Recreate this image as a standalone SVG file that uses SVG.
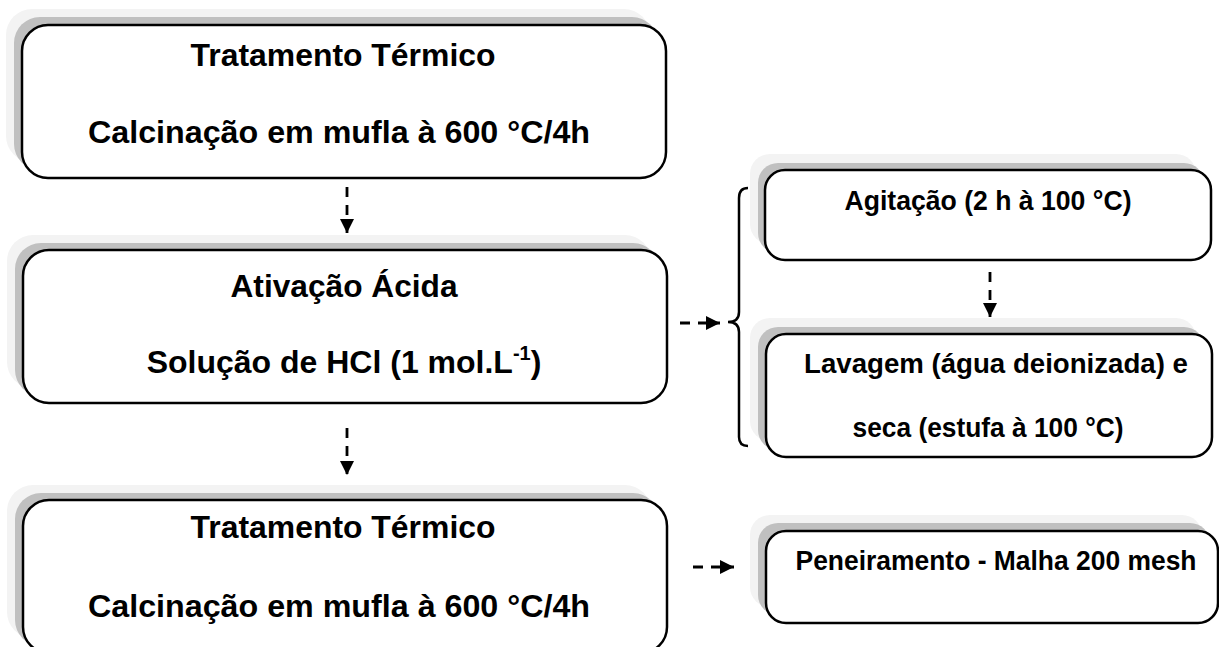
<svg xmlns="http://www.w3.org/2000/svg" width="1219" height="647" viewBox="0 0 1219 647">
  <defs>
    <marker id="tri" viewBox="0 0 10 10" refX="10" refY="5" markerWidth="5" markerHeight="5" markerUnits="strokeWidth" orient="auto">
      <path d="M0,0 L10,5 L0,10 z" fill="#000"/>
    </marker>
  </defs>
  <style>
    .box { fill: #fff; stroke: #000; stroke-width: 2.5; }
    .sh1 { fill: #f3f3f3; }
    .sh2 { fill: #c0c0c0; }
    .t { font-family: "Liberation Sans", Arial, sans-serif; font-weight: bold; fill: #000; text-anchor: middle; }
    .big { font-size: 32px; }
    .small { font-size: 27px; }
    .link { fill: none; stroke: #000; stroke-width: 2.8; stroke-dasharray: 10 8; marker-end: url(#tri); }
    .brace { fill: none; stroke: #000; stroke-width: 2.5; }
  </style>

  <!-- main column -->
  <g id="n1">
    <rect class="sh1" x="6" y="9" width="644" height="153" rx="26"/>
    <rect class="sh2" x="14" y="17" width="644" height="153" rx="26"/>
    <rect class="box" x="22" y="25" width="644" height="153" rx="26"/>
    <text class="t big" x="343" y="66" textLength="305" lengthAdjust="spacingAndGlyphs">Tratamento Térmico</text>
    <text class="t big" x="339" y="143" textLength="502" lengthAdjust="spacingAndGlyphs">Calcinação em mufla à 600 °C/4h</text>
  </g>

  <g id="n2">
    <rect class="sh1" x="7" y="235" width="644" height="153" rx="26"/>
    <rect class="sh2" x="15" y="243" width="644" height="153" rx="26"/>
    <rect class="box" x="23" y="250" width="644" height="153" rx="26"/>
    <text class="t big" x="344" y="297" textLength="227" lengthAdjust="spacingAndGlyphs">Ativação Ácida</text>
    <text class="t big" x="344" y="373">Solução de HCl (1 mol.L<tspan font-size="20" dy="-13">-1</tspan><tspan dy="13">)</tspan></text>
  </g>

  <g id="n3">
    <rect class="sh1" x="7" y="485" width="644" height="153" rx="26"/>
    <rect class="sh2" x="15" y="493" width="644" height="153" rx="26"/>
    <rect class="box" x="23" y="500" width="644" height="153" rx="26"/>
    <text class="t big" x="343" y="538" textLength="305" lengthAdjust="spacingAndGlyphs">Tratamento Térmico</text>
    <text class="t big" x="339" y="617" textLength="502" lengthAdjust="spacingAndGlyphs">Calcinação em mufla à 600 °C/4h</text>
  </g>

  <!-- side steps -->
  <g id="n4">
    <rect class="sh1" x="750" y="154" width="446" height="90" rx="20"/>
    <rect class="sh2" x="758" y="163" width="446" height="90" rx="20"/>
    <rect class="box" x="765" y="170" width="446" height="90" rx="20"/>
    <text class="t small" x="988" y="210" textLength="287" lengthAdjust="spacingAndGlyphs">Agitação (2 h à 100 °C)</text>
  </g>

  <g id="n5">
    <rect class="sh1" x="750" y="318" width="446" height="123" rx="20"/>
    <rect class="sh2" x="758" y="327" width="446" height="123" rx="20"/>
    <rect class="box" x="766" y="334" width="446" height="123" rx="20"/>
    <text class="t small" x="996" y="373" textLength="384" lengthAdjust="spacingAndGlyphs">Lavagem (água deionizada) e</text>
    <text class="t small" x="988" y="437" textLength="271" lengthAdjust="spacingAndGlyphs">seca (estufa à 100 °C)</text>
  </g>

  <g id="n6">
    <rect class="sh1" x="750" y="515" width="452" height="92" rx="20"/>
    <rect class="sh2" x="758" y="523" width="452" height="92" rx="20"/>
    <rect class="box" x="766" y="531" width="452" height="92" rx="20"/>
    <text class="t small" x="996" y="570" textLength="401" lengthAdjust="spacingAndGlyphs">Peneiramento - Malha 200 mesh</text>
  </g>

  <!-- connectors -->
  <g id="links">
    <line class="link" x1="347" y1="187" x2="347" y2="233"/>
    <line class="link" x1="347" y1="428" x2="347" y2="475"/>
    <line class="link" x1="680" y1="323" x2="720" y2="323"/>
    <line class="link" x1="990" y1="272" x2="990" y2="317"/>
    <line class="link" x1="693" y1="567" x2="734" y2="567"/>
    <path class="brace" d="M748,188 Q739,188 739,198 L739,312 Q739,322 728,322 Q739,322 739,332 L739,437 Q739,446 748,446"/>
  </g>
</svg>
